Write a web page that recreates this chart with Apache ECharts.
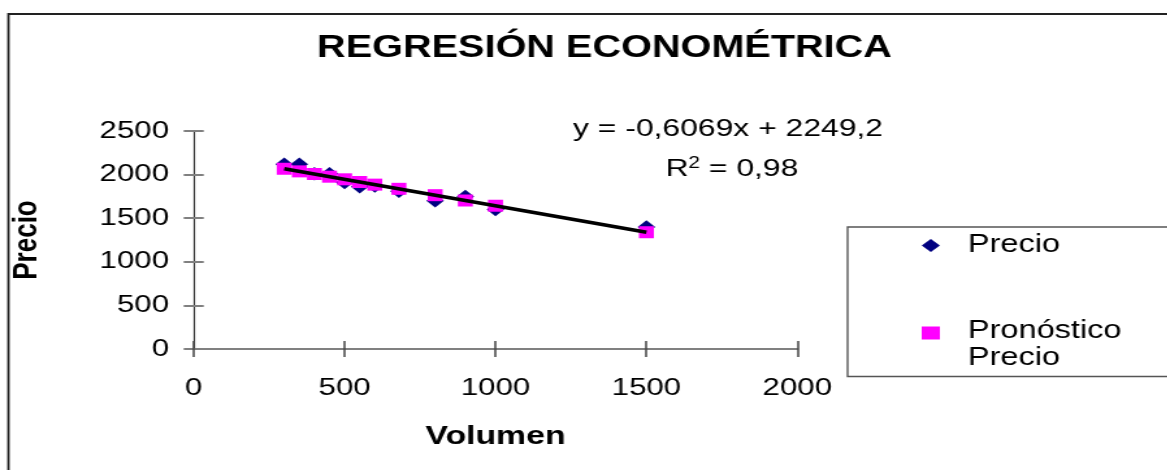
<!DOCTYPE html>
<html>
<head>
<meta charset="utf-8">
<script src="https://cdn.jsdelivr.net/npm/echarts@6/dist/echarts.min.js"></script>
<style>
  html, body { margin: 0; padding: 0; background: #fff; overflow: hidden; }
  /* el original esta estirado a lo ancho: se dibuja mas estrecho y se escala en x */
  #chart { width: 898px; height: 470px; transform: scaleX(1.3); transform-origin: 0 0; }
</style>
</head>
<body>
<div id="chart"></div>
<script>
// datos
const volumen = [300, 350, 400, 450, 500, 550, 600, 680, 800, 900, 1000, 1500]
const precio = [2120, 2120, 2010, 2010, 1910, 1860, 1870, 1810, 1700, 1750, 1600, 1400]
const pronostico = [2067, 2037, 2007, 1976, 1946, 1915, 1885, 1837, 1764, 1703, 1643, 1339]
const tendencia = [[300, 2067], [1500, 1339]]
const xTicks = [0, 500, 1000, 1500, 2000]
const yTicks = [0, 500, 1000, 1500, 2000, 2500]

const font = 'Liberation Sans, Arial, sans-serif'
const axisGray = '#808080'

const chart = echarts.init(document.getElementById('chart'), null, { renderer: 'canvas' })

const pairs = (xs, ys) => xs.map((x, i) => [x, ys[i]])

const baseX = {
  type: 'value',
  min: xTicks[0],
  max: xTicks[xTicks.length - 1],
  interval: 500,
  splitLine: { show: false }
}
const baseY = {
  type: 'value',
  min: yTicks[0],
  max: yTicks[yTicks.length - 1],
  interval: 500,
  splitLine: { show: false }
}

chart.setOption({
  animation: false,
  backgroundColor: '#fff',
  textStyle: { fontFamily: font },
  title: [{
    text: 'REGRESIÓN ECONOMÉTRICA',
    left: 460,
    top: 28,
    textAlign: 'center',
    textStyle: { fontFamily: font, fontSize: 30.5, fontWeight: 'bold', color: '#000' }
  }, {
    text: 'y = -0,6069x + 2249,2',
    left: 555,
    top: 112,
    textAlign: 'center',
    textStyle: { fontFamily: font, fontSize: 24.5, fontWeight: 'normal', color: '#000' }
  }, {
    text: 'R{s|2} = 0,98',
    left: 558,
    top: 151,
    textAlign: 'center',
    textStyle: {
      fontFamily: font, fontSize: 24.5, fontWeight: 'normal', color: '#000',
      rich: { s: { fontFamily: font, fontSize: 16, verticalAlign: 'top', padding: [0, 0, 10, 0] } }
    }
  }],
  graphic: [{
    type: 'rect',
    shape: { x: 6.5, y: 14, width: 1200, height: 500 },
    style: { fill: 'none', stroke: '#222', lineWidth: 1.8 },
    silent: true,
    z: -10
  }],
  legend: {
    orient: 'vertical',
    left: 652,
    top: 227,
    padding: [6, 400, 6, 57],
    itemGap: 43,
    itemWidth: 14,
    itemHeight: 13,
    borderColor: '#555',
    borderWidth: 1.4,
    backgroundColor: '#fff',
    data: ['Precio', 'Pronóstico Precio'],
    // el texto de dos lineas va alineado con la primera linea, como en Excel
    formatter: name => name === 'Precio' ? '{n|Precio}' : '{t| }\n{n|Pronóstico}\n{n|Precio}',
    textStyle: {
      fontFamily: font, fontSize: 25, color: '#000',
      rich: {
        n: { fontFamily: font, fontSize: 25, color: '#000', lineHeight: 27, padding: [0, 0, 0, 16.6] },
        t: { fontSize: 10, lineHeight: 23 }
      }
    }
  },
  grid: { left: 147.7, right: 284.7, top: 131, bottom: 121, containLabel: false },
  xAxis: [{
    ...baseX,
    name: 'Volumen',
    nameLocation: 'middle',
    nameGap: 75,
    nameTextStyle: { fontFamily: font, fontSize: 26, fontWeight: 'bold', color: '#000' },
    axisLine: { onZero: false, lineStyle: { color: axisGray, width: 2 } },
    axisTick: { length: 8, lineStyle: { color: '#444', width: 1.5 } },
    axisLabel: { margin: 27, fontFamily: font, fontSize: 24, color: '#000', formatter: v => String(v) }
  }, {
    ...baseX,
    position: 'bottom',
    axisLine: { show: false },
    axisTick: { inside: true, length: 8, lineStyle: { color: '#444', width: 1.5 } },
    axisLabel: { show: false }
  }],
  yAxis: [{
    ...baseY,
    name: 'Precio',
    nameLocation: 'middle',
    nameGap: 115,
    nameTextStyle: { fontFamily: font, fontSize: 26, fontWeight: 'bold', color: '#000' },
    axisLine: { show: true, onZero: false, lineStyle: { color: '#333', width: 1.2 } },
    axisTick: { show: true, length: 7.7, lineStyle: { color: axisGray, width: 2 } },
    axisLabel: { margin: 19, fontFamily: font, fontSize: 24, color: '#000', formatter: v => String(v) }
  }, {
    ...baseY,
    position: 'left',
    axisLine: { show: false },
    axisTick: { show: true, inside: true, length: 7.7, lineStyle: { color: axisGray, width: 2 } },
    axisLabel: { show: false }
  }],
  series: [{
    name: 'Precio',
    type: 'scatter',
    symbol: 'diamond',
    symbolSize: [13.5, 13.5],
    itemStyle: { color: '#000080', opacity: 1 },
    data: pairs(volumen, precio),
    z: 2
  }, {
    name: 'Pronóstico Precio',
    type: 'scatter',
    symbol: 'rect',
    symbolSize: [11.5, 12],
    itemStyle: { color: '#ff00ff', opacity: 1 },
    data: pairs(volumen, pronostico),
    z: 3
  }, {
    name: 'Lineal',
    type: 'line',
    data: tendencia,
    symbol: 'none',
    lineStyle: { color: '#000', width: 3.5 },
    z: 4
  }]
})
</script>
</body>
</html>
